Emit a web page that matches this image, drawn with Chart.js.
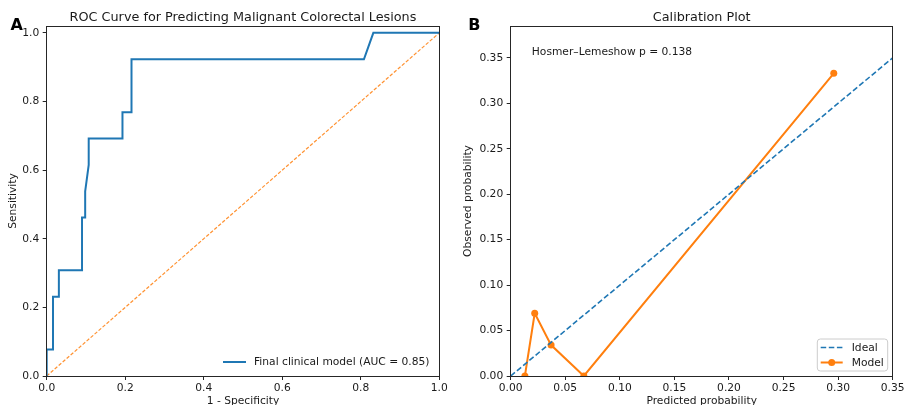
<!DOCTYPE html>
<html><head><meta charset="utf-8">
<script src="https://cdn.jsdelivr.net/npm/chart.js@4.4.1/dist/chart.umd.min.js"></script>
<style>
html,body{margin:0;padding:0;background:#fff;}
#wrap{position:relative;width:906px;height:405px;overflow:hidden;background:#fff;}
canvas{position:absolute;top:0;}
</style></head><body>
<div id="wrap">
<canvas id="c1" width="453" height="405" style="left:0"></canvas>
<canvas id="c2" width="453" height="405" style="left:453px"></canvas>
</div>
<script>
// ---- data ----
const rocFpr = [0, 0, 0.016, 0.016, 0.031, 0.031, 0.090, 0.090, 0.098, 0.098, 0.107, 0.107, 0.193, 0.193, 0.216, 0.216, 0.808, 0.832, 1.0];
const rocTpr = [0, 0.077, 0.077, 0.231, 0.231, 0.308, 0.308, 0.462, 0.462, 0.538, 0.615, 0.692, 0.692, 0.769, 0.769, 0.923, 0.923, 1.0, 1.0];
const chanceX = [0, 1];
const chanceY = [0, 1];
const predicted = [0.013, 0.022, 0.037, 0.067, 0.296];
const observed = [0, 0.069, 0.034, 0, 0.333];
const idealX = [0, 0.35];
const idealY = [0, 0.35];
const rocXTicks = [0, 0.2, 0.4, 0.6, 0.8, 1.0];
const rocYTicks = [0, 0.2, 0.4, 0.6, 0.8, 1.0];
const calXTicks = [0, 0.05, 0.10, 0.15, 0.20, 0.25, 0.30, 0.35];
const calYTicks = [0, 0.05, 0.10, 0.15, 0.20, 0.25, 0.30, 0.35];

const FONT = 'DejaVu Sans';
Chart.defaults.font.family = FONT;
Chart.defaults.font.size = 10.7;
Chart.defaults.color = '#1a1a1a';

const pts = (xs, ys) => xs.map((x, i) => ({x: x, y: ys[i]}));

function axis(opts) {
  return {
    type: 'linear', min: opts.min, max: opts.max,
    afterBuildTicks: s => { s.ticks = opts.ticks.map(v => ({value: v})); },
    afterFit: s => {
      if (opts.width !== undefined) s.width = opts.width;
      if (opts.height !== undefined) s.height = opts.height;
      s.paddingLeft = 0; s.paddingRight = 0; s.paddingTop = 0; s.paddingBottom = 0;
    },
    grid: {drawOnChartArea: false, drawTicks: true, tickLength: 4, tickColor: '#262626', tickWidth: 1},
    border: {display: false},
    ticks: {autoSkip: false, maxRotation: 0, minRotation: 0, padding: opts.pad,
      callback: v => v.toFixed(opts.dec), font: {size: 10.7}, color: '#1a1a1a'},
    title: {display: true, text: opts.title, font: {size: 10.7, lineHeight: 1}, padding: opts.tpad, color: '#1a1a1a'}
  };
}

function deco(o) {
  return {
    id: 'deco',
    afterDraw(chart) {
      const ctx = chart.ctx, a = chart.chartArea;
      ctx.save();
      ctx.strokeStyle = '#262626'; ctx.lineWidth = 1;
      const l = Math.floor(a.left) + 0.5, t = Math.floor(a.top) + 0.5;
      const r = Math.floor(a.right) + 0.5, b = Math.floor(a.bottom) + 0.5;
      ctx.strokeRect(l, t, r - l, b - t);
      ctx.fillStyle = '#1a1a1a';
      ctx.font = '12.8px "' + FONT + '"';
      ctx.textAlign = 'center'; ctx.textBaseline = 'alphabetic';
      ctx.fillText(o.title, (a.left + a.right) / 2, 21);
      ctx.font = 'bold 16px "' + FONT + '"';
      ctx.textAlign = 'left';
      ctx.fillStyle = '#000';
      ctx.fillText(o.panel, o.panelX, 29.5);
      if (o.extra) o.extra(ctx, a);
      ctx.restore();
    }
  };
}

// ---- ROC chart ----
new Chart(document.getElementById('c1'), {
  type: 'scatter',
  data: {datasets: [
    {label: 'Final clinical model (AUC = 0.85)', data: pts(rocFpr, rocTpr), showLine: true,
     borderColor: '#1f77b4', borderWidth: 2, pointRadius: 0, clip: 0},
    {label: 'Chance', data: pts(chanceX, chanceY), showLine: true,
     borderColor: 'rgba(255,127,14,0.85)', borderWidth: 1.2, borderDash: [3.5, 1.8], pointRadius: 0, clip: 0}
  ]},
  options: {
    responsive: false, animation: false, events: [],
    layout: {padding: {top: 26, right: 13.7, left: 0, bottom: 0}},
    plugins: {legend: {display: false}, title: {display: false}, tooltip: {enabled: false}},
    scales: {
      x: axis({min: 0, max: 1, ticks: rocXTicks, dec: 1, height: 29, pad: 2, title: '1 - Specificity', tpad: {bottom: -2}}),
      y: axis({min: 0, max: 1.02, ticks: rocYTicks, dec: 1, width: 46.7, pad: 3.5, title: 'Sensitivity', tpad: {top: 8}})
    }
  },
  plugins: [deco({title: 'ROC Curve for Predicting Malignant Colorectal Lesions', panel: 'A', panelX: 10.5,
    extra: (ctx, a) => {
      ctx.strokeStyle = '#1f77b4'; ctx.lineWidth = 2;
      ctx.beginPath(); ctx.moveTo(223, 362); ctx.lineTo(246, 362); ctx.stroke();
      ctx.fillStyle = '#1a1a1a'; ctx.font = '10.7px "' + FONT + '"';
      ctx.textAlign = 'left'; ctx.textBaseline = 'middle';
      ctx.fillText('Final clinical model (AUC = 0.85)', 254, 362.5);
    }})]
});

// ---- Calibration chart ----
new Chart(document.getElementById('c2'), {
  type: 'scatter',
  data: {datasets: [
    {label: 'Ideal', data: pts(idealX, idealY), showLine: true,
     borderColor: '#1f77b4', borderWidth: 1.6, borderDash: [5.5, 2.6], pointRadius: 0, clip: 0},
    {label: 'Model', data: pts(predicted, observed), showLine: true,
     borderColor: '#ff7f0e', backgroundColor: '#ff7f0e', borderWidth: 2,
     pointRadius: 3.5, pointBorderWidth: 0, pointBackgroundColor: '#ff7f0e', clip: 0}
  ]},
  options: {
    responsive: false, animation: false, events: [],
    layout: {padding: {top: 26, right: 13.3, left: 0, bottom: 0}},
    plugins: {legend: {display: false}, title: {display: false}, tooltip: {enabled: false}},
    scales: {
      x: axis({min: 0, max: 0.35, ticks: calXTicks, dec: 2, height: 29, pad: 2, title: 'Predicted probability', tpad: {bottom: -2}}),
      y: axis({min: 0, max: 0.385, ticks: calYTicks, dec: 2, width: 57.7, pad: 3.5, title: 'Observed probability', tpad: {top: 10}})
    }
  },
  plugins: [deco({title: 'Calibration Plot', panel: 'B', panelX: 15.3,
    extra: (ctx, a) => {
      ctx.fillStyle = '#1a1a1a'; ctx.font = '10.7px "' + FONT + '"';
      ctx.textAlign = 'left'; ctx.textBaseline = 'alphabetic';
      ctx.fillText('Hosmer\u2013Lemeshow p = 0.138', a.left + 0.05 * (a.right - a.left) + 2, a.top + 0.05 * (a.bottom - a.top) + 11);
      const bx = 364.3, by = 339, bw = 70.4, bh = 32, rr = 3;
      ctx.beginPath();
      ctx.moveTo(bx + rr, by); ctx.lineTo(bx + bw - rr, by); ctx.arcTo(bx + bw, by, bx + bw, by + rr, rr);
      ctx.lineTo(bx + bw, by + bh - rr); ctx.arcTo(bx + bw, by + bh, bx + bw - rr, by + bh, rr);
      ctx.lineTo(bx + rr, by + bh); ctx.arcTo(bx, by + bh, bx, by + bh - rr, rr);
      ctx.lineTo(bx, by + rr); ctx.arcTo(bx, by, bx + rr, by, rr); ctx.closePath();
      ctx.fillStyle = 'rgba(255,255,255,0.8)'; ctx.fill();
      ctx.strokeStyle = '#cccccc'; ctx.lineWidth = 1; ctx.stroke();
      ctx.strokeStyle = '#1f77b4'; ctx.lineWidth = 1.6; ctx.setLineDash([5.5, 2.6]);
      ctx.beginPath(); ctx.moveTo(367.7, 347.5); ctx.lineTo(389.7, 347.5); ctx.stroke();
      ctx.setLineDash([]);
      ctx.strokeStyle = '#ff7f0e'; ctx.lineWidth = 2;
      ctx.beginPath(); ctx.moveTo(367.7, 362.5); ctx.lineTo(389.7, 362.5); ctx.stroke();
      ctx.fillStyle = '#ff7f0e'; ctx.beginPath(); ctx.arc(378.7, 362.5, 3.5, 0, Math.PI * 2); ctx.fill();
      ctx.fillStyle = '#1a1a1a'; ctx.textBaseline = 'middle';
      ctx.fillText('Ideal', 398.7, 348);
      ctx.fillText('Model', 398.7, 363);
    }})]
});
</script>
</body></html>
